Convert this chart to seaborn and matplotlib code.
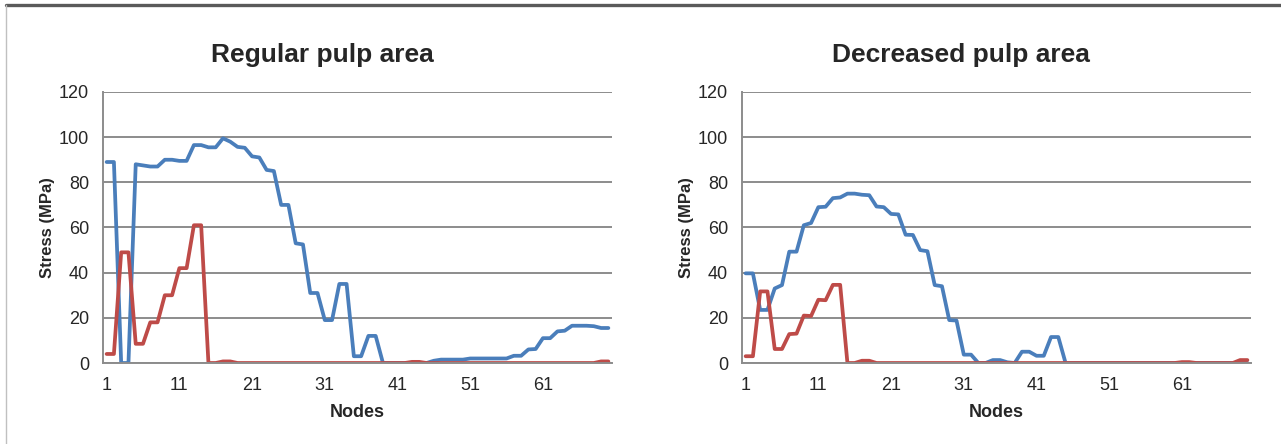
import pandas as pd
import seaborn as sns
import matplotlib.pyplot as plt
from matplotlib.lines import Line2D

nodes = list(range(1, 71))

regular_blue = [89, 89, 0, 0, 88, 87.5, 87, 87, 90, 90,
                89.5, 89.5, 96.5, 96.5, 95.5, 95.5, 99.5, 98, 95.7, 95.3,
                91.5, 91, 85.5, 85, 70, 70, 53, 52.5, 31, 31,
                19, 19, 35, 35, 3, 3, 12, 12, 0, 0,
                0, 0, 0, 0, 0, 1, 1.5, 1.5, 1.5, 1.5,
                2, 2, 2, 2, 2, 2, 3.2, 3.2, 6, 6.2,
                11, 11, 14, 14.3, 16.5, 16.5, 16.5, 16.3, 15.5, 15.5]
regular_red = [4, 4, 49, 49, 8.5, 8.5, 18, 18, 30, 30,
               42, 42, 61, 61, 0, 0, 0.7, 0.7] + [0] * 24 + [0.5, 0.5] + [0] * 24 + [0.7, 0.7]

decreased_blue = [39.7, 39.7, 23.5, 23.5, 33, 34.5, 49.3, 49.3, 61, 62,
                  69, 69.2, 73, 73.3, 75, 75, 74.5, 74.3, 69.3, 69,
                  66, 65.8, 56.8, 56.7, 50, 49.5, 34.5, 34, 19, 18.8,
                  3.7, 3.7, 0, 0, 1.3, 1.3, 0.3, 0, 5, 5,
                  3.2, 3.2, 11.5, 11.5] + [0] * 26
decreased_red = [3, 3, 31.7, 31.7, 6.2, 6.2, 12.8, 13, 21, 20.8,
                 28, 27.8, 34.6, 34.6, 0, 0, 1, 1] + [0] * 42 + [0.4, 0.4] + [0] * 6 + [1.3, 1.3]

panels = [("Regular pulp area", regular_blue, regular_red),
          ("Decreased pulp area", decreased_blue, decreased_red)]

sns.set_style("white")
narrow = ["Liberation Sans Narrow", "Liberation Sans", "DejaVu Sans"]
plt.rcParams["font.family"] = narrow

blue = "#4a7ebb"
red = "#be4b48"
grey = "#8c8c8c"

fig = plt.figure(figsize=(12.81, 4.44), dpi=100)

# outer frame of the chart area
fig.add_artist(Line2D([6 / 1281, 1], [1 - 5 / 444, 1 - 5 / 444], color="#5a5a5a", lw=2.4,
                      transform=fig.transFigure))
fig.add_artist(Line2D([6 / 1281, 6 / 1281], [0, 1 - 5 / 444], color="#c0c0c0", lw=1,
                      transform=fig.transFigure))

axes_left = [103 / 1281, 742 / 1281]
title_x = [322 / 1281, 961 / 1281]

for i, (title, b, r) in enumerate(panels):
    ax = fig.add_axes([axes_left[i], 81 / 444, 509 / 1281, 271 / 444])
    df = pd.DataFrame({"Node": nodes, "blue": b, "red": r})
    sns.lineplot(data=df, x="Node", y="blue", color=blue, lw=2.7, ax=ax)
    sns.lineplot(data=df, x="Node", y="red", color=red, lw=2.7, ax=ax)

    ax.set_xlim(0.5, 70.5)
    ax.set_ylim(0, 120)
    ax.set_yticks(range(0, 121, 20))
    ax.yaxis.grid(True, color=grey, lw=1.4)
    ax.set_axisbelow(True)
    ax.set_xticks(range(1, 71, 10))
    ax.set_xticks([n + 0.5 for n in range(0, 71)], minor=True)
    ax.tick_params(axis="x", which="major", length=0, pad=10, labelsize=13)
    ax.tick_params(axis="x", which="minor", length=5, width=1, color=grey, direction="out")
    ax.tick_params(axis="y", length=6, width=1, color=grey, direction="out", pad=4, labelsize=13)
    for side in ["top", "right"]:
        ax.spines[side].set_visible(False)
    for side in ["left", "bottom"]:
        ax.spines[side].set_color(grey)
        ax.spines[side].set_linewidth(1.4)

    ax.set_xlabel("Nodes", fontsize=13, fontweight="bold", labelpad=7)
    ax.set_ylabel("Stress (MPa)", fontsize=12, fontweight="bold", labelpad=3)
    fig.text(title_x[i], 1 - 55 / 444, title, ha="center", va="center",
             fontsize=19, fontweight="bold")

fig.savefig("out.png", dpi=100)
